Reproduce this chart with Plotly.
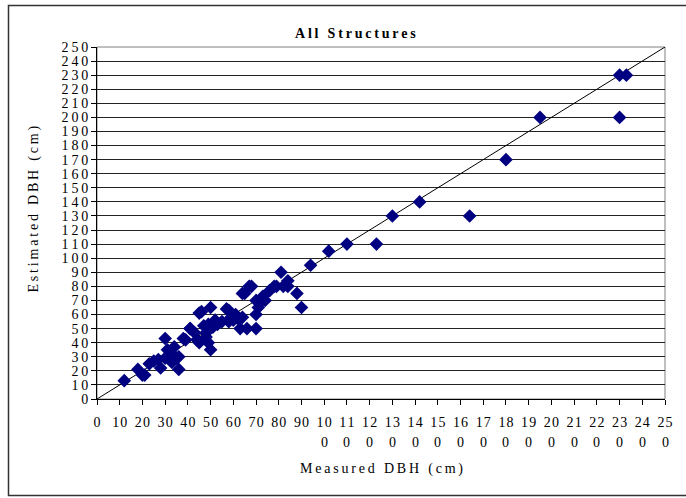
import plotly.graph_objects as go

measured = [12, 18, 20, 21, 23, 25, 27, 28, 30, 30, 31, 33, 33, 34, 35, 36, 36, 38, 39, 41, 41, 43, 44, 45, 45,
            46, 47, 48, 48, 49, 49, 50, 50, 51, 52, 53, 55, 57, 58, 58, 59, 60, 61, 62, 63, 64, 64, 65, 66,
            67, 68, 70, 70, 70, 71, 72, 73, 74, 76, 78, 79, 81, 82, 84, 84, 88, 90, 94, 102, 110, 123,
            130, 142, 164, 180, 195, 230, 230, 233]
estimated = [13, 21, 17, 17, 25, 27, 28, 22, 29, 43, 35, 32, 26, 37, 29, 30, 21, 43, 42, 50, 50, 47, 42, 61, 40,
             62, 52, 47, 44, 53, 40, 65, 35, 51, 56, 53, 55, 64, 55, 63, 58, 56, 60, 57, 50, 75, 58, 75, 50,
             80, 80, 70, 60, 50, 65, 69, 73, 70, 77, 80, 80, 90, 80, 84, 80, 75, 65, 95, 105, 110, 110,
             130, 140, 130, 170, 200, 200, 230, 230]

ref_line = [0, 250]
y_ticks = list(range(0, 251, 10))
x_ticks = list(range(0, 251, 10))

TS = "\u2009"  # thin space to mimic letter spacing
HS = "\u200a"  # hair space


def spaced(s, sep):
    return sep.join(list(s))


y_ticktext = [spaced(str(v), TS) for v in y_ticks]
x_ticktext = [spaced(str(v) if v < 100 else str(v)[:2], HS) for v in x_ticks]
x_second = [(v, str(v)[2:]) for v in x_ticks if v >= 100]

font = "Liberation Serif"
title_text = "All Structures"
x_title = "Measured DBH (cm)"
y_title = "Estimated DBH (cm)"

fig = go.Figure()
fig.add_trace(go.Scatter(x=ref_line, y=ref_line, mode="lines",
                         line=dict(color="black", width=1), showlegend=False, hoverinfo="skip"))
fig.add_trace(go.Scatter(x=measured, y=estimated, mode="markers",
                         marker=dict(symbol="diamond", size=10.5, color="#000080",
                                     line=dict(width=0)), showlegend=False))

for v, t in x_second:
    fig.add_annotation(x=v, y=0, xref="x", yref="paper", text=t, showarrow=False,
                       yanchor="middle", yshift=-43, font=dict(family=font, size=14, color="black"))

fig.add_annotation(x=(355 - 97) / 568, y=1, xref="paper", yref="paper",
                   text="<b>" + spaced(title_text, TS) + "</b>",
                   showarrow=False, yanchor="middle", yshift=14,
                   font=dict(family=font, size=14, color="black"))

fig.add_annotation(x=0.5, y=0, xref="paper", yref="paper",
                   text=spaced(x_title, TS),
                   showarrow=False, yanchor="middle", yshift=-70,
                   font=dict(family=font, size=14, color="black"))

fig.add_annotation(x=0, y=(399 - 209.5) / 352, xref="paper", yref="paper",
                   text=spaced(y_title, TS),
                   showarrow=False, textangle=-90, xanchor="center", yanchor="middle", xshift=-64,
                   font=dict(family=font, size=14, color="black"))

fig.update_layout(
    width=686, height=498,
    margin=dict(l=97, r=21, t=47, b=99),
    paper_bgcolor="white", plot_bgcolor="white",
    font=dict(family=font, size=14, color="black"),
    xaxis=dict(range=[0, 250], tickmode="array", tickvals=x_ticks, ticktext=x_ticktext,
               showgrid=False, zeroline=False, showline=True, linecolor="black", linewidth=1,
               ticks="outside", ticklen=5, tickcolor="black", tickangle=0, automargin=False,
               ticklabelstandoff=5,
               tickfont=dict(family=font, size=14)),
    yaxis=dict(range=[0, 250], tickmode="array", tickvals=y_ticks, ticktext=y_ticktext,
               showgrid=True, gridcolor="#222", gridwidth=1, zeroline=False,
               showline=True, linecolor="black", linewidth=1, automargin=False,
               ticks="outside", ticklen=5, tickcolor="black",
               tickfont=dict(family=font, size=14)),
    shapes=[
        dict(type="rect", xref="paper", yref="paper", x0=0, x1=1, y0=0, y1=1,
             line=dict(color="#808080", width=1), fillcolor="rgba(0,0,0,0)", layer="below"),
        dict(type="rect", xref="paper", yref="paper",
             x0=(8.5 - 97) / 568, x1=(700 - 97) / 568, y0=(399 - 495.5) / 352, y1=(399 - 5.5) / 352,
             line=dict(color="#333", width=1.5), fillcolor="rgba(0,0,0,0)", layer="below"),
    ],
)

fig.write_html("out.html", config={"displayModeBar": False},
               post_script="document.body.style.margin='0';")
